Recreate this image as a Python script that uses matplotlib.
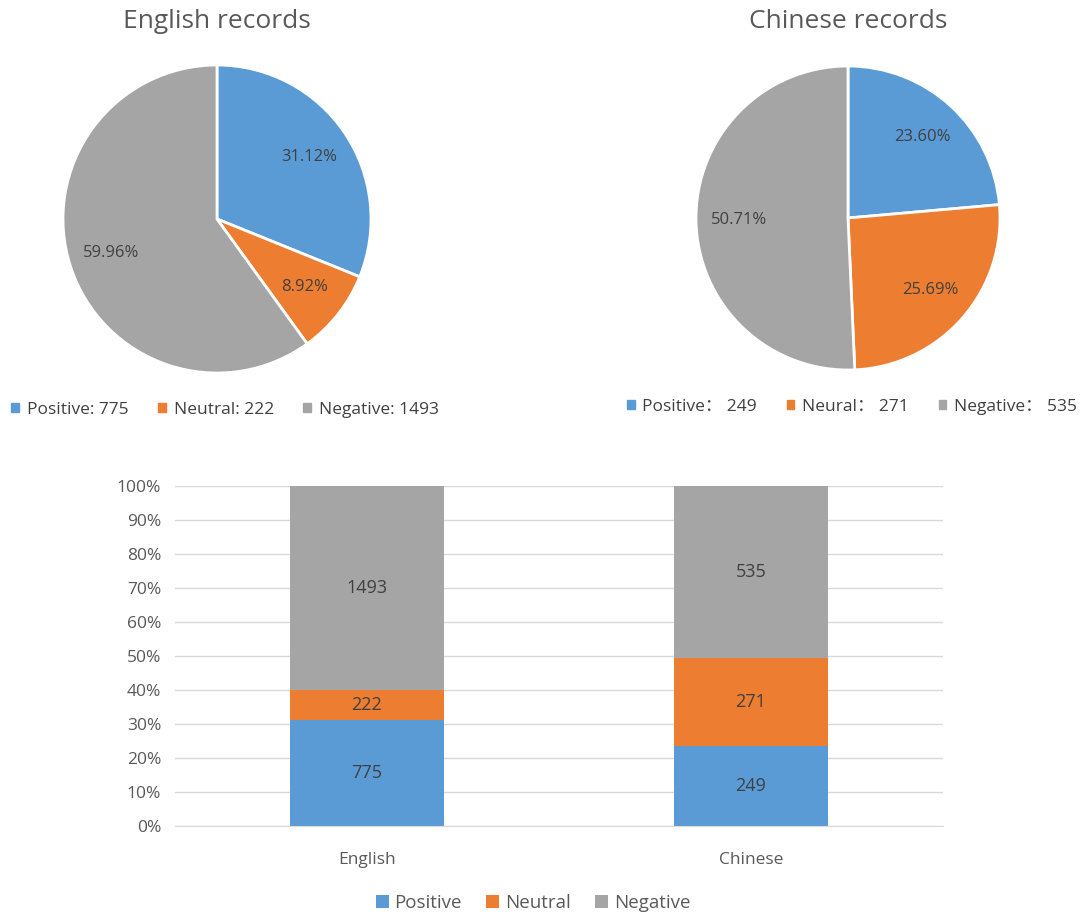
import matplotlib
matplotlib.use('Agg')
import matplotlib.pyplot as plt
import numpy as np
from matplotlib.patches import Patch

plt.rcParams['font.family'] = ['Open Sans', 'Noto Sans CJK SC', 'DejaVu Sans']

# Dados
categorias = ['Positive', 'Neutral', 'Negative']
idiomas = ['English', 'Chinese']
english_counts = [775, 222, 1493]
chinese_counts = [249, 271, 535]
english_legend = ['Positive: 775', 'Neutral: 222', 'Negative: 1493']
chinese_legend = ['Positive\uff1a 249', 'Neural\uff1a 271', 'Negative\uff1a 535']

cores = ['#5B9BD5', '#ED7D31', '#A5A5A5']
txt = '#404040'

W, H = 1090, 917
fig = plt.figure(figsize=(W / 100, H / 100), dpi=100)


def px_axes(x0, y0, w, h):
    """Cria eixos a partir de coordenadas em pixels (origem no topo)"""
    return fig.add_axes([x0 / W, (H - y0 - h) / H, w / W, h / H])


def pie(cx, cy, r, counts, title, labels, leg_x, leg_y):
    ax = px_axes(cx - r, cy - r, 2 * r, 2 * r)
    ax.pie(counts, colors=cores, startangle=90, counterclock=False,
           autopct='%.2f%%', pctdistance=0.72,
           wedgeprops=dict(edgecolor='white', linewidth=2),
           textprops=dict(color=txt, fontsize=12))
    ax.set_xlim(-1, 1)
    ax.set_ylim(-1, 1)
    ax.set_aspect('equal')
    fig.text(cx / W, 1 - 22 / H, title, ha='center', va='center',
             fontsize=19, color='#595959')
    handles = [Patch(color=c) for c in cores]
    fig.legend(handles, labels, loc='center', ncol=3,
               bbox_to_anchor=(leg_x / W, 1 - leg_y / H), frameon=False,
               fontsize=12.5, handlelength=0.45, handleheight=0.45,
               handletextpad=0.45, columnspacing=1.7, labelcolor=txt)


pie(217, 219, 154, english_counts, 'English records', english_legend, 225, 410)
pie(848, 218, 152, chinese_counts, 'Chinese records', chinese_legend, 852, 407)

# Grafico de barras empilhadas (100%)
ax = px_axes(175, 486, 768, 340)
dados = np.array([english_counts, chinese_counts], dtype=float)
perc = dados / dados.sum(axis=1, keepdims=True)
x = np.array([0.5, 1.5])
base = np.zeros(2)
for i, cat in enumerate(categorias):
    ax.bar(x, perc[:, i], 0.4, bottom=base, color=cores[i], label=cat, zorder=2)
    for xi, b, p, n in zip(x, base, perc[:, i], dados[:, i]):
        ax.text(xi, b + p / 2, f'{int(n)}', ha='center', va='center',
                fontsize=13, color=txt, zorder=3)
    base += perc[:, i]

ax.set_xlim(0, 2)
ax.set_ylim(0, 1)
ax.set_yticks(np.arange(0, 1.01, 0.1))
ax.set_yticklabels([f'{int(round(v * 100))}%' for v in np.arange(0, 1.01, 0.1)])
ax.set_xticks(x)
ax.set_xticklabels(idiomas)
ax.tick_params(axis='y', length=0, labelsize=12.5, labelcolor='#595959', pad=10)
ax.tick_params(axis='x', length=0, labelsize=12.5, labelcolor='#595959', pad=19)
ax.yaxis.grid(True, color='#D9D9D9', linewidth=1, zorder=0)
ax.set_axisbelow(True)
for s in ['top', 'right', 'left']:
    ax.spines[s].set_visible(False)
ax.spines['bottom'].set_color('#D9D9D9')

fig.legend(loc='center', ncol=3, bbox_to_anchor=(533 / W, 1 - 903 / H),
           frameon=False, fontsize=13.5, handlelength=0.7, handleheight=0.7,
           handletextpad=0.3, columnspacing=1.3, labelcolor='#595959')

plt.savefig('out.png', dpi=100)
